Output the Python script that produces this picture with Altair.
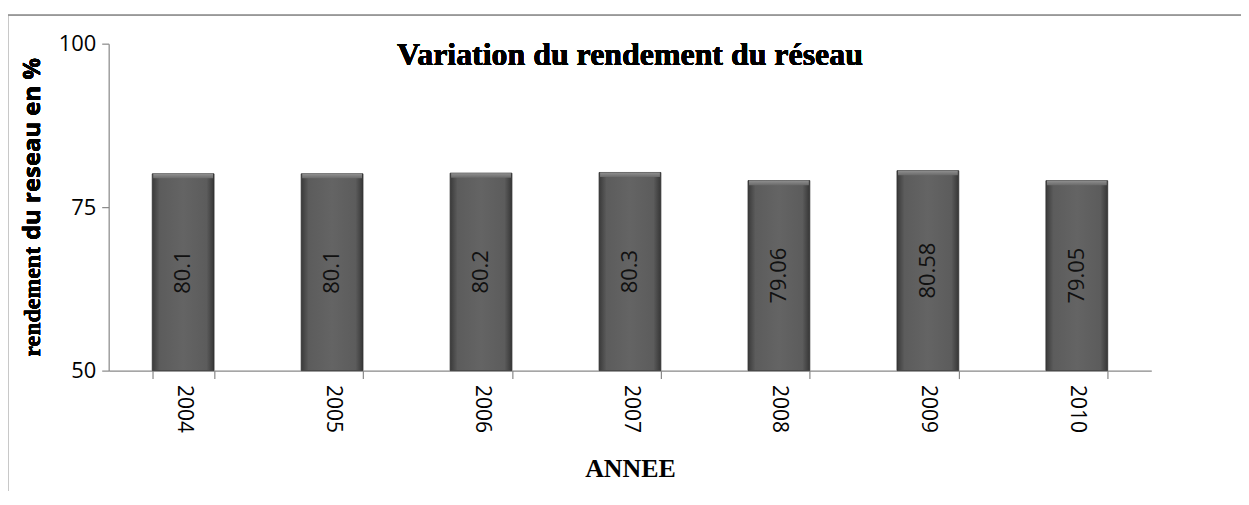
import altair as alt
import pandas as pd

years = ["2004", "2005", "2006", "2007", "2008", "2009", "2010"]
values = [80.1, 80.1, 80.2, 80.3, 79.06, 80.58, 79.05]
labels = ["80.1", "80.1", "80.2", "80.3", "79.06", "80.58", "79.05"]

df = pd.DataFrame({"annee": years, "rendement": values, "label": labels})

W, H = 1046, 328

base = alt.Chart(df)

x_enc = alt.X("annee:N", sort=years, title="ANNEE",
              scale=alt.Scale(paddingInner=0.585, paddingOuter=0.2925),
              axis=alt.Axis(labelAngle=90, labelAlign="left", labelBaseline="middle",
                            labelFont="Open Sans", labelFontSize=21, labelColor="#000",
                            labelPadding=6, tickBand="extent", tickSize=8,
                            tickColor="#888", domainColor="#888",
                            titleFont="Liberation Serif", titleFontSize=26,
                            titleFontWeight="bold", titleColor="#000",
                            titleX=W / 2, titleY=106, titleAlign="center",
                            titleBaseline="alphabetic"))

y_scale = alt.Scale(domain=[50, 100], nice=False, zero=False)

bars = base.mark_bar(
    size=62,
    stroke="#2e2e2e", strokeWidth=0.8,
    color=alt.Gradient(
        gradient="linear", x1=0, x2=1, y1=0, y2=0,
        stops=[alt.GradientStop(color="#3a3a3a", offset=0),
               alt.GradientStop(color="#5c5c5c", offset=0.12),
               alt.GradientStop(color="#646464", offset=0.5),
               alt.GradientStop(color="#5c5c5c", offset=0.88),
               alt.GradientStop(color="#363636", offset=1)])
).encode(
    x=x_enc,
    y=alt.Y("rendement:Q", scale=y_scale, title=None,
            axis=alt.Axis(values=[50, 75, 100], grid=False, tickSize=7,
                          tickColor="#888", domainColor="#888",
                          labelFont="Open Sans", labelFontSize=22, labelColor="#000",
                          labelPadding=6)),
    y2=alt.datum(50)
)

bevel = base.transform_calculate(
    bev="datum.rendement - 0.7"
).mark_bar(
    size=60,
    color=alt.Gradient(
        gradient="linear", x1=0, x2=0, y1=0, y2=1,
        stops=[alt.GradientStop(color="#909090", offset=0),
               alt.GradientStop(color="#6a6a6a", offset=1)])
).encode(
    x=alt.X("annee:N", sort=years),
    y=alt.Y("rendement:Q", scale=y_scale),
    y2="bev:Q"
)

text = base.transform_calculate(
    mid="(datum.rendement + 50) / 2"
).mark_text(angle=270, font="Open Sans", fontSize=22, color="#111",
            align="center", baseline="middle").encode(
    x=alt.X("annee:N", sort=years),
    y=alt.Y("mid:Q", scale=y_scale),
    text="label:N"
)

title = base.mark_text(
    text="Variation du rendement du réseau",
    font="Liberation Serif", fontSize=32, fontWeight="bold", color="#000",
    align="center", baseline="alphabetic"
).encode(x=alt.value(W / 2), y=alt.value(21))

ytitle1 = base.mark_text(
    text="rendement", angle=270,
    font="Liberation Serif", fontSize=24, fontWeight="bold", color="#000",
    align="left", baseline="middle"
).encode(x=alt.value(-76), y=alt.value(314))

ytitle2 = base.mark_text(
    text="du reseau en %", angle=270,
    font="Open Sans", fontSize=24, fontWeight="bold", color="#000",
    align="left", baseline="middle"
).encode(x=alt.value(-76), y=alt.value(197))

border_left = base.mark_rule(color="#999", strokeWidth=1.2).encode(
    x=alt.value(-101.5), y=alt.value(-29), y2=alt.value(470))
border_top = base.mark_rule(color="#999", strokeWidth=1.2).encode(
    x=alt.value(-102), x2=alt.value(1140), y=alt.value(-28.5))

chart = alt.layer(bars, bevel, text, title, ytitle1, ytitle2,
                  border_left, border_top).properties(
    width=W, height=H,
    autosize=alt.AutoSizeParams(type="none"),
    padding={"left": 101, "top": 35, "right": 90, "bottom": 120}
).configure_view(stroke=None).configure_axis(domainWidth=1.2, tickWidth=1.2)

chart.save("out.html", embed_options={"renderer": "svg", "actions": False})
